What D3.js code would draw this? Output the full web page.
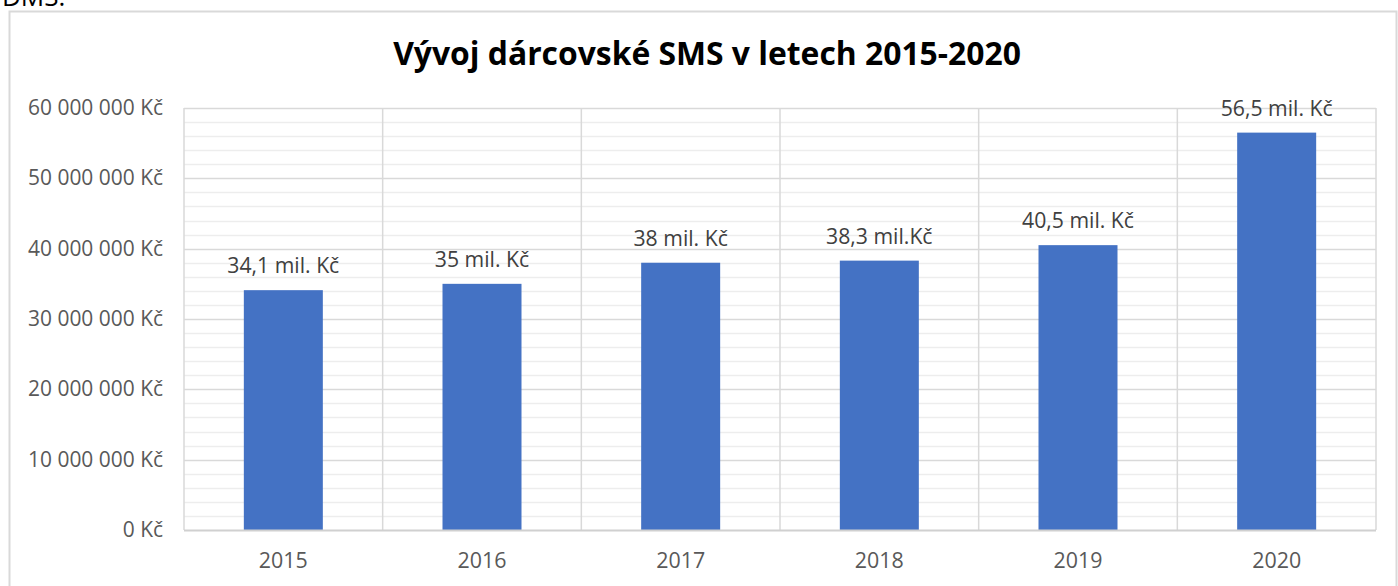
<!DOCTYPE html>
<html><head><meta charset="utf-8">
<script src="https://cdn.jsdelivr.net/npm/d3@7"></script>
<style>body{margin:0;background:#fff;overflow:hidden}svg{display:block}</style>
</head><body>
<svg id="c" width="1398" height="586"></svg>
<script>
const years = ["2015","2016","2017","2018","2019","2020"];
const values = [34100000, 35000000, 38000000, 38300000, 40500000, 56500000];
const labels = ["34,1 mil. Kč","35 mil. Kč","38 mil. Kč","38,3 mil.Kč","40,5 mil. Kč","56,5 mil. Kč"];
const yTicks = [0,10000000,20000000,30000000,40000000,50000000,60000000];
const title = "Vývoj dárcovské SMS v letech 2015-2020";

const svg = d3.select("#c");
const font = "'Open Sans', sans-serif";
const L=184, R=1376, T=108, B=530;

// fit font size so a sample text has a target width
function fitSize(sample, target, weight){
  const t = svg.append("text").attr("font-family",font).attr("font-weight",weight||"normal")
    .attr("font-size",20).text(sample);
  const w = t.node().getComputedTextLength(); t.remove();
  return 20*target/w;
}
const titleSize = fitSize(title, 628, "bold");
const ySize = fitSize("60 000 000 Kč", 135);
const dSize = fitSize("34,1 mil. Kč", 112);
const xSize = fitSize("2015", 49);

// header text cut off
svg.append("text").attr("x",2).attr("y",6).attr("font-family",font).attr("font-size",26).attr("fill","#000").text("DMS.");
// chart border
svg.append("rect").attr("x",9.5).attr("y",11.5).attr("width",1387).attr("height",600)
  .attr("fill","#fff").attr("stroke","#d9d9d9").attr("stroke-width",2);

const x = d3.scaleBand().domain(years).range([L,R]).paddingInner(0).paddingOuter(0);
const y = d3.scaleLinear().domain([0,60000000]).range([B,T]);

// minor gridlines
const minor = d3.range(0,60000001,2000000).filter(v=>v%10000000!==0);
svg.append("g").selectAll("line").data(minor).join("line")
  .attr("x1",L).attr("x2",R).attr("y1",d=>Math.round(y(d))+0.5).attr("y2",d=>Math.round(y(d))+0.5)
  .attr("stroke","#ededed").attr("stroke-width",1.3);
// major gridlines
svg.append("g").selectAll("line").data(yTicks.filter(v=>v>0)).join("line")
  .attr("x1",L).attr("x2",R).attr("y1",d=>Math.round(y(d))+0.5).attr("y2",d=>Math.round(y(d))+0.5)
  .attr("stroke","#d9d9d9").attr("stroke-width",1.5);
// vertical gridlines
const vx = years.map(d=>x(d)).concat([R]);
svg.append("g").selectAll("line").data(vx).join("line")
  .attr("x1",d=>d).attr("x2",d=>d).attr("y1",T).attr("y2",B)
  .attr("stroke","#d9d9d9").attr("stroke-width",1.5);

// bars
const bw = 79;
svg.append("g").selectAll("rect").data(values).join("rect")
  .attr("x",(d,i)=>x(years[i])+x.bandwidth()/2-bw/2)
  .attr("y",d=>y(d)).attr("width",bw).attr("height",d=>B-y(d))
  .attr("fill","#4472c4");

// x axis line
svg.append("line").attr("x1",L).attr("x2",R).attr("y1",B+0.5).attr("y2",B+0.5)
  .attr("stroke","#d0d0d0").attr("stroke-width",2);

// data labels
svg.append("g").selectAll("text").data(labels).join("text")
  .attr("x",(d,i)=>x(years[i])+x.bandwidth()/2)
  .attr("y",(d,i)=>y(values[i])-17)
  .attr("text-anchor","middle").attr("font-family",font).attr("font-size",dSize)
  .attr("fill","#404040").text(d=>d);

// y axis labels
const fmt = v => d3.format(",")(v).replace(/,/g," ")+" Kč";
svg.append("g").selectAll("text").data(yTicks).join("text")
  .attr("x",163).attr("y",d=>y(d)+7).attr("text-anchor","end")
  .attr("font-family",font).attr("font-size",ySize).attr("fill","#595959").text(fmt);

// x axis labels
svg.append("g").selectAll("text").data(years).join("text")
  .attr("x",d=>x(d)+x.bandwidth()/2).attr("y",568).attr("text-anchor","middle")
  .attr("font-family",font).attr("font-size",xSize).attr("fill","#595959").text(d=>d);

// title
svg.append("text").attr("x",707).attr("y",65).attr("text-anchor","middle")
  .attr("font-family",font).attr("font-weight","bold").attr("font-size",titleSize)
  .attr("fill","#000").text(title);
</script>
</body></html>
